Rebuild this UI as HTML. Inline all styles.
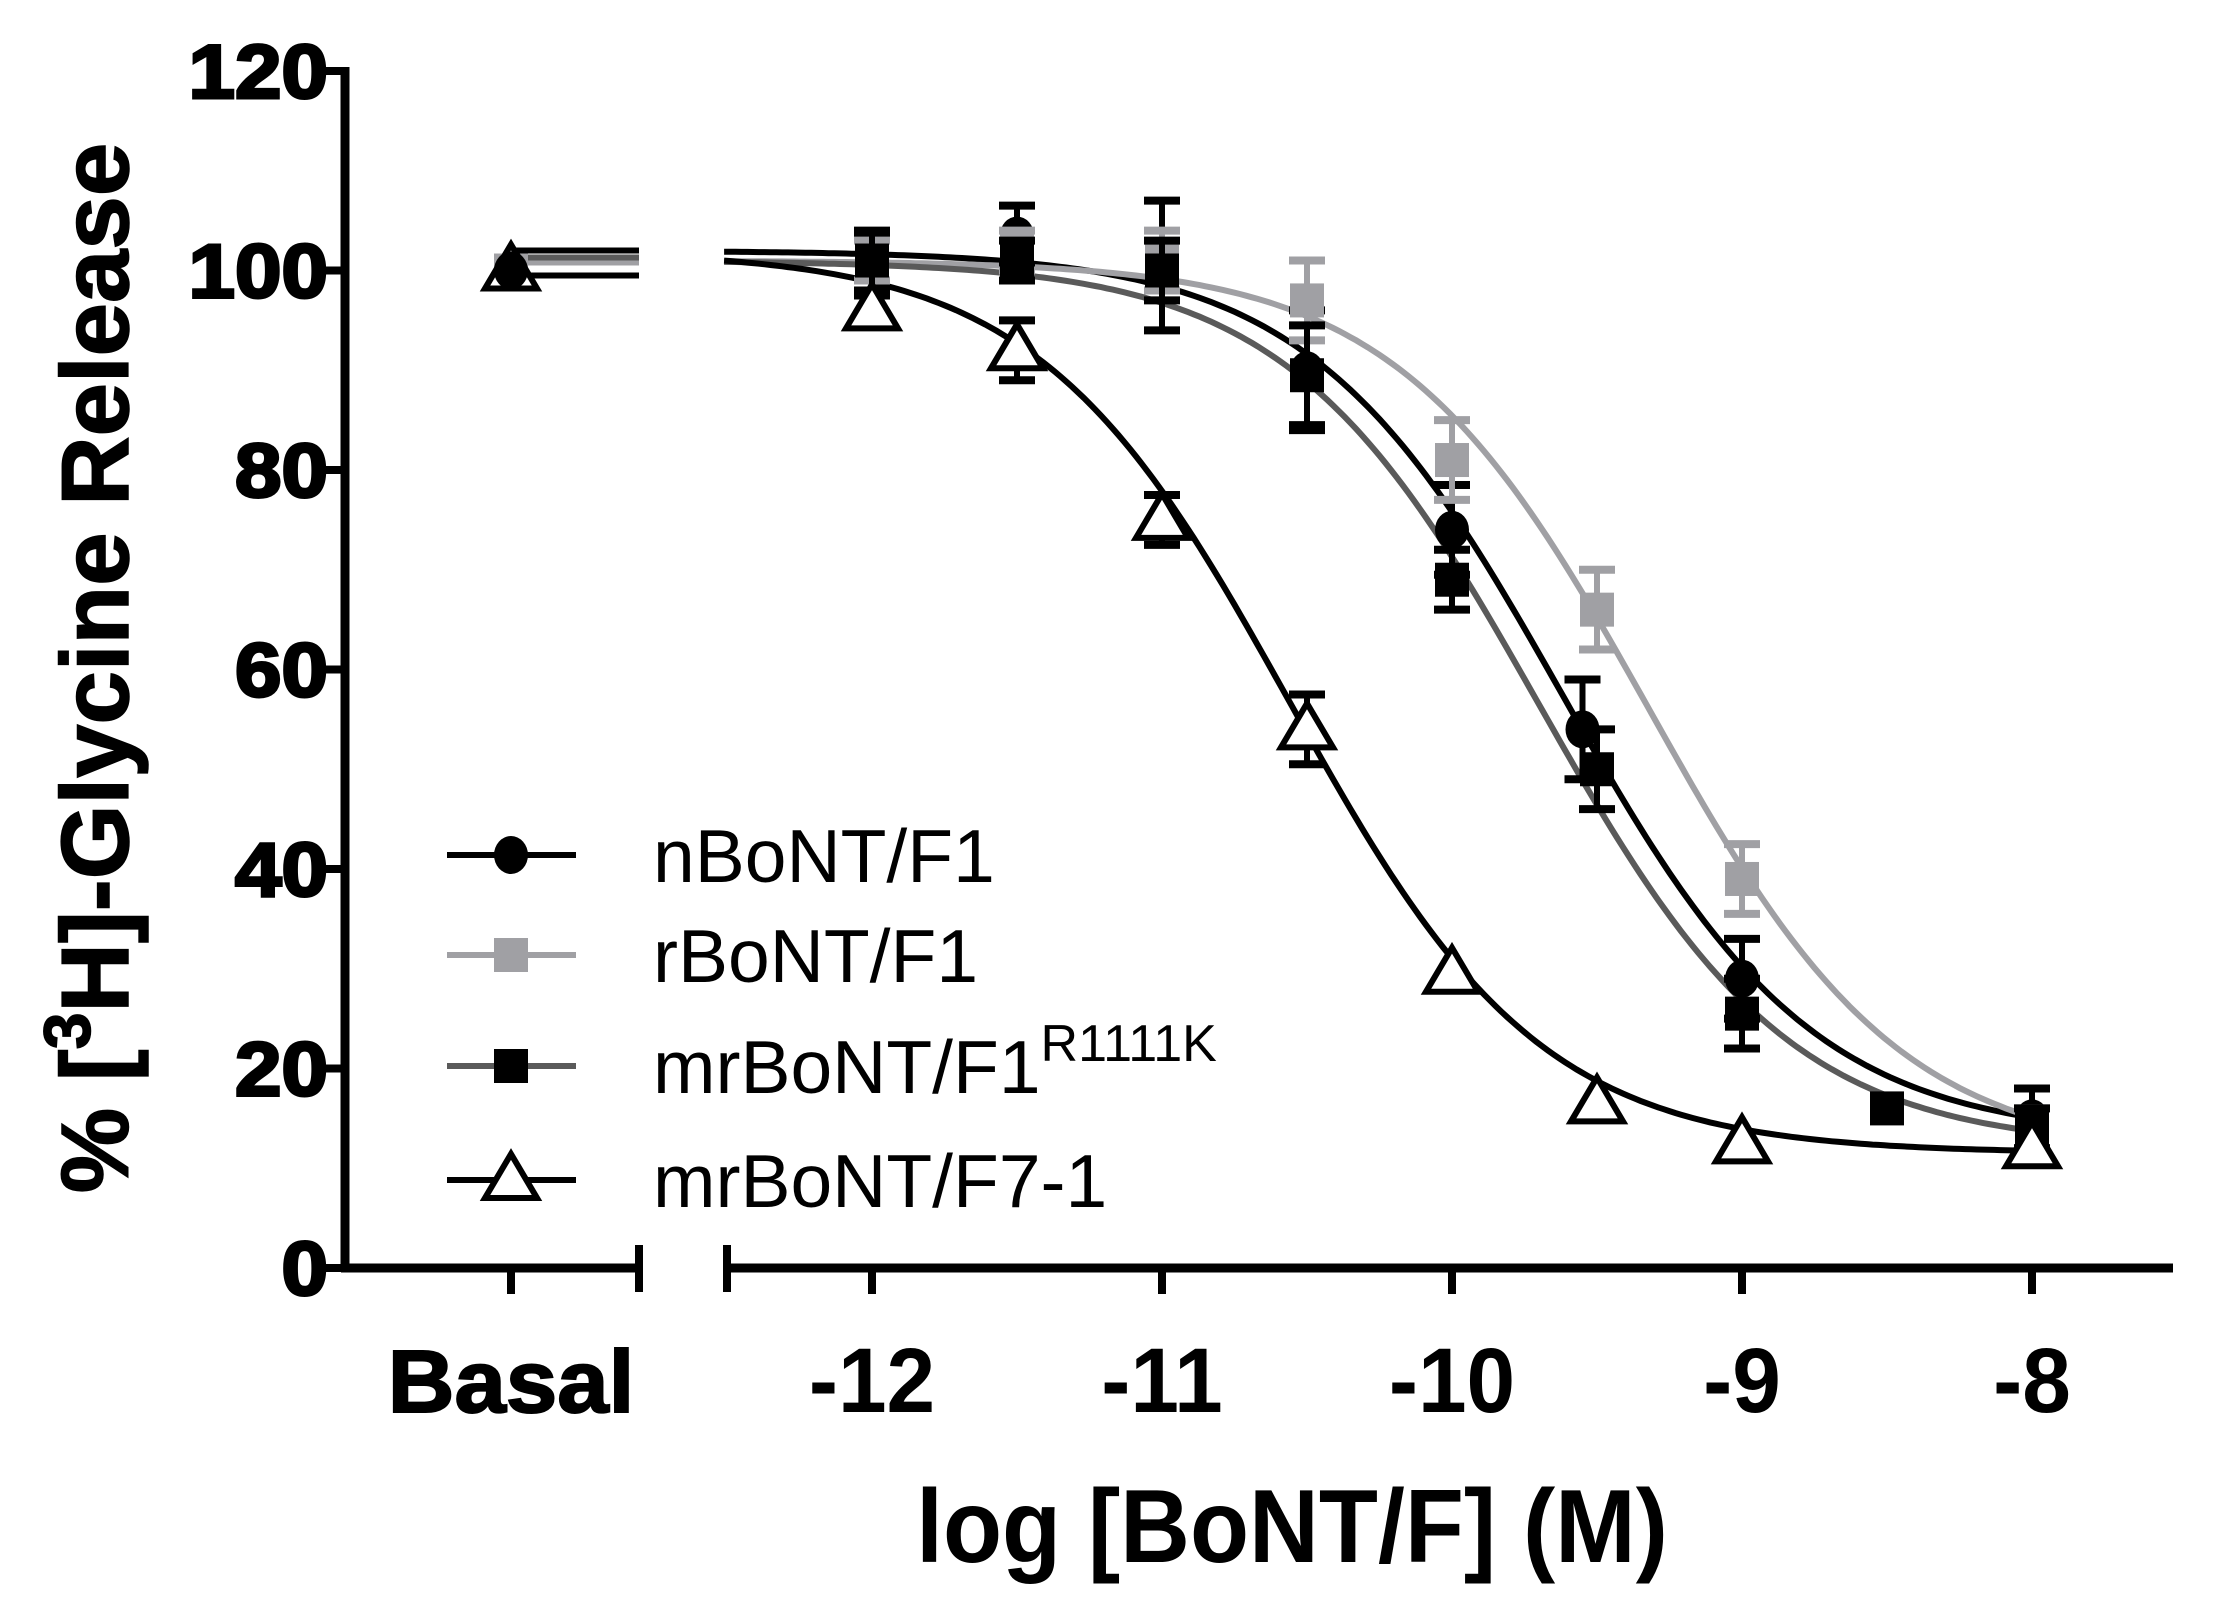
<!DOCTYPE html>
<html><head><meta charset="utf-8"><style>
html,body{margin:0;padding:0;background:#fff;}
svg{display:block;}
</style></head><body>
<svg id="s" width="2215" height="1609" xmlns="http://www.w3.org/2000/svg" font-family="Liberation Sans, sans-serif"></svg>
<script>
const s=document.getElementById('s');
const X=l=>872+(l+12)*290, Y=v=>1268-v*9.975;
let h='';
h+='<line x1="345" y1="67" x2="345" y2="1272" stroke="#000" stroke-width="9"/>';
h+='<line x1="341" y1="1268" x2="639" y2="1268" stroke="#000" stroke-width="9"/>';
h+='<line x1="639" y1="1245" x2="639" y2="1292" stroke="#000" stroke-width="8"/>';
h+='<line x1="727" y1="1268" x2="2173" y2="1268" stroke="#000" stroke-width="9"/>';
h+='<line x1="727" y1="1245" x2="727" y2="1292" stroke="#000" stroke-width="8"/>';
h+='<line x1="511" y1="1268" x2="511" y2="1294" stroke="#000" stroke-width="8"/>';
for(let v=0;v<=120;v+=20){h+=`<line x1="318" y1="${Y(v)}" x2="345" y2="${Y(v)}" stroke="#000" stroke-width="8"/>`;
h+=`<text transform="translate(328,${Y(v)+27}) scale(1.1,1)" font-size="76" font-weight="900" text-anchor="end" stroke="#000" stroke-width="3">${v}</text>`;}
for(let l=-12;l<=-8;l++){h+=`<line x1="${X(l)}" y1="1268" x2="${X(l)}" y2="1294" stroke="#000" stroke-width="8"/>`;
h+=`<text transform="translate(${X(l)},1412) scale(0.95,1)" font-size="92" font-weight="bold" text-anchor="middle">${l}</text>`;}
h+='<text transform="translate(511,1412) scale(1.05,1)" font-size="88" font-weight="900" text-anchor="middle" stroke="#000" stroke-width="2">Basal</text>';
h+='<text transform="translate(1292,1562) scale(0.93,1)" font-size="104" font-weight="bold" text-anchor="middle">log [BoNT/F] (M)</text>';
h+='<text transform="translate(128,668) rotate(-90)" font-size="96" font-weight="bold" text-anchor="middle" stroke="#000" stroke-width="1.5">% [<tspan dy="-38" font-size="66">3</tspan><tspan dy="38">H]-Glycine Release</tspan></text>';
const ser=[
 {top:102,bot:13,ic:-9.62,c:'#000',m:'#000',mk:'c',pts:[[-12,100.5,3],[-11.5,103.5,3],[-11,100.5,6.5],[-10.5,90,6],[-10,74,4.5],[-9.55,54,5],[-9,29,4],[-8,15,3]],bl:99.5},
 {top:101,bot:11,ic:-9.32,c:'#a0a0a4',m:'#a0a0a4',mk:'s',pts:[[-12,101,2],[-11.5,102,2],[-11,101,3],[-10.5,97,4],[-10,81,4],[-9.5,66,4],[-9,39,3.5],[-8,14,2]],bl:100.8},
 {top:101,bot:12,ic:-9.7,c:'#5a5a5a',m:'#000',mk:'s',pts:[[-12,101,3],[-11.5,101,2],[-11,100,3],[-10.5,89.5,5],[-10,69,3],[-9.5,50,4],[-9,25.5,3.5],[-8.5,16,1],[-8,14,2]],bl:101.3},
 {top:102,bot:11.5,ic:-10.56,c:'#000',m:'#000',mk:'t',pts:[[-12,96,1.5],[-11.5,92,3],[-11,75,2.5],[-10.5,54,3.5],[-10,29.5,1],[-9.5,16.5,1],[-9,12.5,1],[-8,12,1]],bl:102}
];
function marker(m,x,y,col){
 if(m=='c')return `<ellipse cx="${x}" cy="${y}" rx="17" ry="19" fill="${col}"/>`;
 if(m=='s')return `<rect x="${x-17}" y="${y-17}" width="34" height="34" fill="${col}"/>`;
 return `<polygon points="${x},${y-26} ${x-26},${y+18} ${x+26},${y+18}" fill="#fff" stroke="${col}" stroke-width="6"/>`;
}
ser.forEach(o=>{
 let d='';for(let l=-12.51;l<=-7.99;l+=0.02){const v=o.bot+(o.top-o.bot)/(1+Math.pow(10,l-o.ic));d+=(d?'L':'M')+X(l).toFixed(1)+','+Y(v).toFixed(1);}
 h+=`<path d="${d}" fill="none" stroke="${o.c}" stroke-width="6"/>`;
 h+=`<line x1="511" y1="${Y(o.bl)}" x2="639" y2="${Y(o.bl)}" stroke="${o.c}" stroke-width="6"/>`;
});
ser.forEach(o=>{
 o.pts.forEach(([l,v,e])=>{const x=X(l);
  if(e>1.5){h+=`<line x1="${x}" y1="${Y(v+e)}" x2="${x}" y2="${Y(v-e)}" stroke="${o.m}" stroke-width="6"/>`;
  [v+e,v-e].forEach(q=>h+=`<line x1="${x-18}" y1="${Y(q)}" x2="${x+18}" y2="${Y(q)}" stroke="${o.m}" stroke-width="8"/>`);}
  h+=marker(o.mk,x,Y(v),o.m);});
});
h+=marker('s',511,Y(100),'#a0a0a4')+marker('t',511,Y(100),'#000')+marker('c',511,Y(100),'#000');
const ly=[855,955,1066,1180],lab=['nBoNT/F1','rBoNT/F1','mrBoNT/F1','mrBoNT/F7-1'];
ser.forEach((o,i)=>{h+=`<line x1="447" y1="${ly[i]}" x2="576" y2="${ly[i]}" stroke="${o.c}" stroke-width="6"/>`+marker(o.mk,511,ly[i],o.m);
 h+=`<text x="653" y="${ly[i]+27}" font-size="75">${lab[i]}${i==2?'<tspan dy="-32" font-size="52">R1111K</tspan>':''}</text>`;});
s.innerHTML=h;
</script>
</body></html>
